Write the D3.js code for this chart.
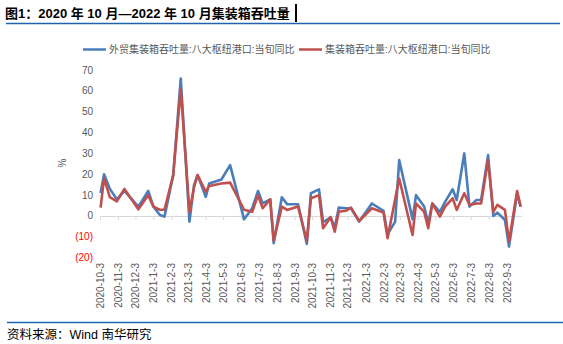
<!DOCTYPE html>
<html><head><meta charset="utf-8">
<script src="https://cdn.jsdelivr.net/npm/d3@7/dist/d3.min.js"></script>
<style>
html,body{margin:0;padding:0;background:#fff;}
svg{display:block;font-family:"Liberation Sans","Noto Sans CJK SC",sans-serif;}
</style></head>
<body>
<svg id="c" width="563" height="344"></svg>
<script>
const title = "图1：2020 年 10 月—2022 年 10 月集装箱吞吐量";
const source = "资料来源：Wind 南华研究";
const seriesNames = ["外贸集装箱吞吐量:八大枢纽港口:当旬同比", "集装箱吞吐量:八大枢纽港口:当旬同比"];
const dates = ["2020-10-04","2020-10-10","2020-10-20","2020-11-01","2020-11-14","2020-12-08","2020-12-25","2021-01-03","2021-01-14","2021-01-22",
"2021-02-06","2021-02-19","2021-03-06","2021-03-14","2021-03-20","2021-04-03","2021-04-09","2021-04-30","2021-05-15","2021-06-08",
"2021-06-22","2021-07-02","2021-07-10","2021-07-23","2021-07-29","2021-08-12","2021-08-21","2021-09-09","2021-09-24","2021-10-01",
"2021-10-15","2021-10-22","2021-11-04","2021-11-11","2021-11-18","2021-11-30","2021-12-09","2021-12-23","2022-01-14","2022-02-03",
"2022-02-10","2022-02-23","2022-03-02","2022-03-25","2022-03-31","2022-04-14","2022-04-21","2022-04-28","2022-05-11","2022-05-20",
"2022-06-02","2022-06-09","2022-06-22","2022-07-01","2022-07-13","2022-07-21","2022-08-02","2022-08-11","2022-08-18","2022-08-31",
"2022-09-07","2022-09-21","2022-09-27"];
const foreignYoY = [11,20,13,8,12,4.5,12,4.5,0.5,-0.3,
19.6,65.9,-2.7,15,19.6,9.2,15.6,17.5,24.4,-1.6,
3.7,12,6,8,-13,9,5.7,5.6,-13.4,10.9,
12.8,-3,-0.6,-5.5,4,3.7,3.7,-2.7,6,2.5,
-8.8,-2.7,26.8,-1.5,10,4.5,-3.5,6,2,6.8,
12.8,7.7,30,4.5,7.7,7.7,29.2,0,1.6,-1.9,
-14.7,10.9,4.5];
const totalYoY = [4,18,9,7,13,3.2,10,4.5,3,3,
19.6,61,2,14,19.6,11.6,14.4,15.6,16,3,
2,10,3.7,8,-11.8,4.5,2.9,4.5,-12,8.5,
10,-5.9,-0.6,-7.5,2,2.5,4,-2.4,3.7,1.6,
-10.7,8,18,-9.1,6,2,-5.9,6,-0.3,4.5,
8.5,2.9,10.9,5.3,6,6,26.8,2,5.3,2.9,
-12.3,12,4.5];
const yTicks = [70,60,50,40,30,20,10,0,-10,-20];
const colors = ["#4a7ebb","#c0504d"];

const parse = d3.timeParse("%Y-%m-%d");
const xs = dates.map(parse);
const svg = d3.select("#c");

const x = d3.scaleTime().domain([parse("2020-10-03"), parse("2022-09-28")]).range([100, 521.2]);
const y = d3.scaleLinear().domain([-20, 70]).range([257.7, 70]);

// title
svg.append("text").attr("x",5).attr("y",18).attr("font-size",13).attr("font-weight","bold")
  .attr("fill","#000").text(title);
svg.append("rect").attr("x",295).attr("y",4).attr("width",2).attr("height",18).attr("fill","#000");
svg.append("line").attr("x1",6).attr("x2",560).attr("y1",23.5).attr("y2",23.5).attr("stroke","#1f63b0").attr("stroke-width",1.3);
svg.append("line").attr("x1",7).attr("x2",563).attr("y1",322.5).attr("y2",322.5).attr("stroke","#1f63b0").attr("stroke-width",1.3);
svg.append("text").attr("x",7).attr("y",339).attr("font-size",12.5).attr("fill","#000").text(source);

// legend
const lg = svg.append("g");
const legX = [83, 299];
seriesNames.forEach((n,i)=>{
  lg.append("line").attr("x1",legX[i]).attr("x2",legX[i]+23).attr("y1",49.5).attr("y2",49.5)
    .attr("stroke",colors[i]).attr("stroke-width",2.5);
  lg.append("text").attr("x",legX[i]+26).attr("y",53).attr("font-size",10).attr("fill","#595959").text(n);
});

// y axis labels
const fmtY = v => v < 0 ? "(" + Math.abs(v) + ")" : String(v);
svg.append("g").selectAll("text").data(yTicks).join("text")
  .attr("x",93).attr("y",d=>y(d)+3.5).attr("text-anchor","end").attr("font-size",10)
  .attr("fill",d=>d<0?"#ff0000":"#595959").text(fmtY);
svg.append("text").attr("transform","translate(66,163) rotate(-90)").attr("text-anchor","middle")
  .attr("font-size",10).attr("fill","#595959").text("%");

// x axis
const ticks = d3.timeMonth.range(parse("2020-10-01"), parse("2022-10-01")).map(d=>new Date(d.getFullYear(), d.getMonth(), 3));
const xAxis = d3.axisBottom(x).tickValues(ticks).tickSize(4).tickSizeOuter(0)
  .tickFormat(d=>`${d.getFullYear()}-${d.getMonth()+1}-${d.getDate()}`);
const gx = svg.append("g").attr("transform",`translate(0,${y(0)})`).call(xAxis);
gx.select(".domain").attr("stroke","#d9d9d9");
gx.selectAll(".tick line").attr("stroke","#d9d9d9");
gx.selectAll(".tick text").attr("font-size",10).attr("fill","#595959")
  .attr("font-family","Liberation Sans, sans-serif")
  .attr("text-anchor","end").attr("transform",`translate(0,${263 - y(0)}) rotate(-90)`)
  .attr("x",0).attr("y",0).attr("dy","0.35em").attr("dx",0);

// lines
const line = d3.line().x((d,i)=>x(xs[i])).y(d=>y(d));
[foreignYoY,totalYoY].forEach((s,i)=>{
  svg.append("path").attr("d",line(s)).attr("fill","none").attr("stroke",colors[i])
    .attr("stroke-width",2.6).attr("stroke-linejoin","round");
});
</script>
</body></html>
